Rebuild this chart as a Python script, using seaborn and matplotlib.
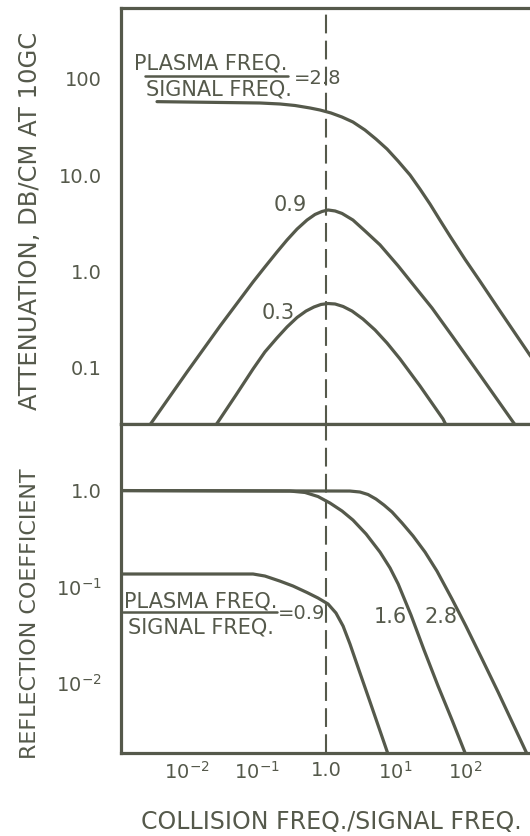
import matplotlib
matplotlib.use("Agg")
import matplotlib.pyplot as plt
import seaborn as sns
from matplotlib.lines import Line2D
from matplotlib.ticker import FixedLocator, FixedFormatter, NullLocator

sns.set_theme(style="white")
plt.rcParams['font.family'] = ['DejaVu Sans']
plt.rcParams['mathtext.default'] = 'regular'

INK = "#55594b"

# ---------------- data ----------------
# Top panel: attenuation, dB/cm at 10 GC vs collision freq / signal freq
att_28_x = [0.00370, 0.0299, 0.112, 0.218, 0.358, 0.589, 0.820, 1.18, 1.70, 2.44, 3.64, 5.24,
            7.55, 10.9, 16.2, 22.5, 31.4, 43.6, 60.8, 100, 164, 299, 861, 1000]
att_28_y = [56.8, 55.7, 55.0, 53.7, 51.8, 48.8, 46.5, 43.3, 39.3, 34.9, 28.8, 23.2,
            18.3, 13.7, 9.82, 7.02, 4.90, 3.34, 2.28, 1.31, 0.777, 0.407, 0.132, 0.114]

att_09_x = [0.0025, 0.00313, 0.01, 0.0299, 0.0891, 0.132, 0.197, 0.275, 0.383, 0.533, 0.695, 0.875,
            1.07, 1.35, 1.70, 2.44, 3.64, 5.98, 10.9, 19.1, 33.5, 67.1, 164, 491, 600]
att_09_y = [0.0214, 0.0268, 0.0885, 0.266, 0.762, 1.09, 1.56, 2.08, 2.70, 3.35, 3.83, 4.11,
            4.26, 4.16, 3.92, 3.35, 2.58, 1.85, 1.12, 0.676, 0.409, 0.204, 0.0824, 0.0268, 0.022]

att_03_x = [0.022, 0.0279, 0.0507, 0.0891, 0.132, 0.197, 0.275, 0.383, 0.515, 0.671, 0.847, 1.07,
            1.35, 1.76, 2.37, 3.40, 5.07, 7.55, 11.6, 22.5, 48.2, 60]
att_03_y = [0.021, 0.0268, 0.0511, 0.0951, 0.143, 0.200, 0.260, 0.326, 0.380, 0.419, 0.445, 0.455,
            0.450, 0.424, 0.380, 0.314, 0.242, 0.177, 0.121, 0.0634, 0.0288, 0.021]

# Bottom panel: reflection coefficient
refl_28_x = [0.001, 2.21, 3.08, 4.02, 5.24, 6.83, 8.91, 12.4, 17.9, 26.6, 39.5, 65.0,
             103, 176, 299, 491, 806, 900]
refl_28_y = [0.964, 0.953, 0.931, 0.877, 0.787, 0.682, 0.578, 0.445, 0.326, 0.222, 0.141, 0.0724,
             0.0380, 0.0173, 0.00787, 0.00367, 0.00171, 0.0013]

refl_16_x = [0.001, 0.303, 0.499, 0.767, 1.14, 1.70, 2.44, 3.77, 5.98, 8.34, 10.9, 16.7,
             25.7, 40.9, 65.0, 103, 120]
refl_16_y = [0.964, 0.953, 0.921, 0.836, 0.716, 0.592, 0.477, 0.342, 0.222, 0.152, 0.104, 0.0494,
             0.0215, 0.0091, 0.00404, 0.00175, 0.0012]

refl_09_x = [0.001, 0.0891, 0.132, 0.218, 0.335, 0.533, 0.767, 1.07, 1.39, 1.76, 2.21, 3.08,
             4.30, 7.80, 8.6]
refl_09_y = [0.1316, 0.1316, 0.1254, 0.111, 0.0988, 0.0846, 0.0742, 0.0643, 0.0519, 0.0380, 0.0248, 0.0124,
             0.00621, 0.00179, 0.0013]

x_ticks = [0.01, 0.1, 1.0, 10, 100]
x_ticklabels = ["$10^{-2}$", "$10^{-1}$", "1.0", "$10^{1}$", "$10^{2}$"]
top_yticks = [0.1, 1.0, 10.0, 100.0]
top_yticklabels = ["0.1", "1.0", "10.0", "100"]
bot_yticks = [0.01, 0.1, 1.0]
bot_yticklabels = ["$10^{-2}$", "$10^{-1}$", "1.0"]

# ---------------- figure ----------------
W, H = 530, 837
fig = plt.figure(figsize=(W / 100, H / 100), dpi=100)
fig.patch.set_facecolor("white")

def fx(px):
    return px / W

def fy(py):
    return 1 - py / H

ax_top = fig.add_axes([fx(121), fy(425), 1 - fx(121), fy(9) - fy(425)])
ax_bot = fig.add_axes([fx(121), fy(754), 1 - fx(121), fy(425) - fy(754)])

LW = 2.3
for ax in (ax_top, ax_bot):
    ax.set_facecolor("white")
    ax.set_xscale("log")
    ax.set_yscale("log")
    ax.set_xlim(0.001122, 861)
    for side in ("left", "top", "bottom"):
        ax.spines[side].set_color(INK)
        ax.spines[side].set_linewidth(LW)
    ax.spines["right"].set_visible(False)
    ax.xaxis.set_major_locator(FixedLocator(x_ticks))
    ax.xaxis.set_minor_locator(NullLocator())
    ax.yaxis.set_minor_locator(NullLocator())
    ax.tick_params(axis="x", direction="in", length=10, width=2, color=INK,
                   labelcolor=INK, labelsize=14, pad=5, top=False)
    ax.tick_params(axis="y", direction="in", length=13, width=2, color=INK,
                   labelcolor=INK, labelsize=14, pad=14, right=False)
    ax.axvline(1.0, color=INK, lw=1.5, dashes=(9, 3.5), zorder=1)

ax_top.set_ylim(0.02553, 533)
ax_bot.set_ylim(0.001837, 4.72)

for xs, ys in ((att_28_x, att_28_y), (att_09_x, att_09_y), (att_03_x, att_03_y)):
    sns.lineplot(x=xs, y=ys, ax=ax_top, color=INK, lw=LW, sort=False, estimator=None)
for xs, ys in ((refl_28_x, refl_28_y), (refl_16_x, refl_16_y), (refl_09_x, refl_09_y)):
    sns.lineplot(x=xs, y=ys, ax=ax_bot, color=INK, lw=LW, sort=False, estimator=None)

ax_top.yaxis.set_major_locator(FixedLocator(top_yticks))
ax_top.yaxis.set_major_formatter(FixedFormatter(top_yticklabels))
ax_top.tick_params(axis="x", labelbottom=False)
ax_bot.yaxis.set_major_locator(FixedLocator(bot_yticks))
ax_bot.yaxis.set_major_formatter(FixedFormatter(bot_yticklabels))
ax_bot.xaxis.set_major_formatter(FixedFormatter(x_ticklabels))

# axis labels
ax_top.set_ylabel("ATTENUATION, DB/CM AT 10GC", fontsize=17.5, color=INK, va="center", ha="center")
ax_top.yaxis.set_label_coords((30 - 121) / 409, (425 - 221) / 416)
ax_bot.set_ylabel("REFLECTION COEFFICIENT", fontsize=16, color=INK, va="center", ha="center")
ax_bot.yaxis.set_label_coords((30 - 121) / 409, (754 - 614) / 329)
ax_bot.set_xlabel("COLLISION FREQ./SIGNAL FREQ.", fontsize=17, color=INK, va="center", ha="center")
ax_bot.xaxis.set_label_coords((331.5 - 121) / 409, (754 - 822) / 329)

# fraction annotations
TF = 15
fig.text(fx(211), fy(63), "PLASMA FREQ.", fontsize=TF, color=INK, ha="center", va="center")
fig.text(fx(219), fy(90), "SIGNAL FREQ.", fontsize=TF, color=INK, ha="center", va="center")
fig.add_artist(Line2D([fx(145), fx(288)], [fy(77), fy(77)], color=INK, lw=1.8))
fig.text(fx(294), fy(79), "=2.8", fontsize=14, color=INK, ha="left", va="center")

fig.text(fx(201), fy(602), "PLASMA FREQ.", fontsize=TF, color=INK, ha="center", va="center")
fig.text(fx(201), fy(628), "SIGNAL FREQ.", fontsize=TF, color=INK, ha="center", va="center")
fig.add_artist(Line2D([fx(123), fx(277)], [fy(613), fy(613)], color=INK, lw=1.8))
fig.text(fx(278), fy(614), "=0.9", fontsize=14, color=INK, ha="left", va="center")

fig.text(fx(290), fy(205), "0.9", fontsize=TF, color=INK, ha="center", va="center")
fig.text(fx(278), fy(313), "0.3", fontsize=TF, color=INK, ha="center", va="center")
fig.text(fx(390), fy(617), "1.6", fontsize=TF, color=INK, ha="center", va="center")
fig.text(fx(441), fy(617), "2.8", fontsize=TF, color=INK, ha="center", va="center")

fig.savefig("out.png", dpi=100, facecolor="white")
